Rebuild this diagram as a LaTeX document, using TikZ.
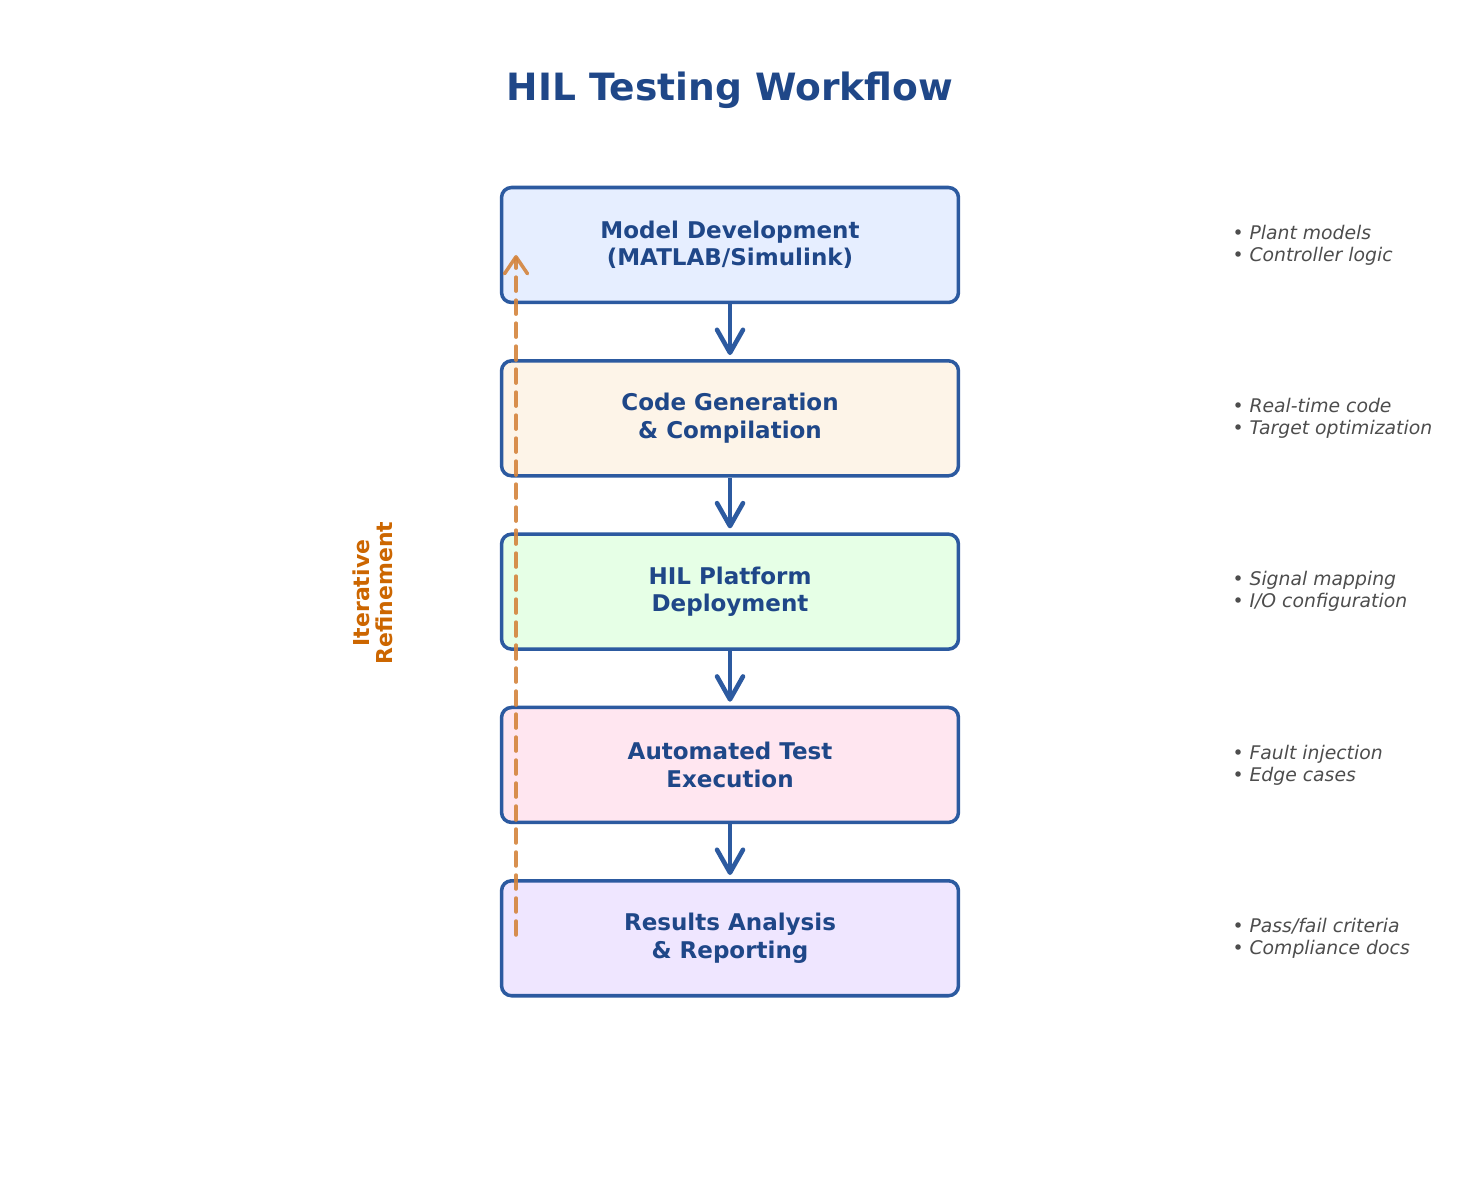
\documentclass[tikz,border=0pt]{standalone}
\usepackage{fontspec}
\setsansfont{DejaVu Sans}
\usepackage{xcolor}
\definecolor{frameBlue}{HTML}{2C5AA0}
\definecolor{titleBlue}{HTML}{1F4788}
\definecolor{loopOrange}{HTML}{D4843C}
\definecolor{labelOrange}{HTML}{CC6600}
\definecolor{noteGray}{HTML}{4D4D4D}
\definecolor{modelFill}{HTML}{E6EEFF}
\definecolor{codeFill}{HTML}{FDF4E8}
\definecolor{deployFill}{HTML}{E6FFE6}
\definecolor{testFill}{HTML}{FFE6F0}
\definecolor{resultFill}{HTML}{EFE6FF}
\usepackage{tikz}
\usetikzlibrary{
    arrows.meta,
    positioning
}
\tikzset{
    % Base style for the workflow stages
    stage base/.style={
        font=\sffamily\bfseries\fontsize{13.1}{15.6}\selectfont,
        align=center,
        text=titleBlue,
    },
    % Stage boxes - rounded rectangle, blue frame
    stage/.style={
        stage base,
        rectangle,
        rounded corners=0.2cm,
        draw=frameBlue,
        line width=2pt,
        minimum width=9.14cm,
        minimum height=2.3cm,
    },
    % Title of the chart
    chart title/.style={
        font=\sffamily\bfseries\fontsize{21.4}{25}\selectfont,
        text=titleBlue,
    },
    % Side notes - grey italic bullets
    note/.style={
        font=\sffamily\itshape\fontsize{10.7}{12.5}\selectfont,
        text=noteGray,
        align=left,
        anchor=west,
        inner sep=0pt,
    },
    % Arrow between stages
    arrow/.style={
        -{Straight Barb[length=4.6mm, width=5.2mm, line cap=round, line join=round]},
        line width=2.6pt,
        draw=frameBlue,
        shorten >=0.08cm,
    },
    % Dashed feedback arrow
    arrow loop/.style={
        -{Straight Barb[length=3.4mm, width=4.6mm, line cap=round, line join=round]},
        line width=2pt,
        draw=loopOrange,
        draw opacity=0.9,
        dash pattern=on 0.28cm off 0.18cm,
        line cap=round,
    },
    % Label of the feedback loop
    loop label/.style={
        font=\sffamily\bfseries\fontsize{12.5}{13.2}\selectfont,
        text=labelOrange,
        align=center,
        rotate=90,
    },
}

\begin{document}
\begin{tikzpicture}[x=0.02cm, y=-0.02cm, node distance=3.467cm, font=\sffamily]
    \useasboundingbox (0,0) rectangle (1460,1185);

    \node (title) [chart title] at (730,90) {HIL Testing Workflow};

    \node (model) [stage, fill=modelFill] at (730,245) {Model Development\\(MATLAB/Simulink)};
    \node (codegen) [stage, fill=codeFill, below of=model] {Code Generation\\\& Compilation};
    \node (deploy) [stage, fill=deployFill, below of=codegen] {HIL Platform\\Deployment};
    \node (testrun) [stage, fill=testFill, below of=deploy] {Automated Test\\Execution};
    \node (results) [stage, fill=resultFill, below of=testrun] {Results Analysis\\\& Reporting};

    \node (modelNote) [note, right=5.44cm of model] {• Plant models\\• Controller logic};
    \node (codegenNote) [note, right=5.44cm of codegen] {• Real-time code\\• Target optimization};
    \node (deployNote) [note, right=5.44cm of deploy] {• Signal mapping\\• I/O configuration};
    \node (testrunNote) [note, right=5.44cm of testrun] {• Fault injection\\• Edge cases};
    \node (resultsNote) [note, right=5.44cm of results] {• Pass/fail criteria\\• Compliance docs};

    \draw [arrow] (model) -- (codegen);
    \draw [arrow] (codegen) -- (deploy);
    \draw [arrow] (deploy) -- (testrun);
    \draw [arrow] (testrun) -- (results);

    % feedback from the results back to the model
    \coordinate (loopStart) at (516,935);
    \coordinate (loopEnd) at (516,255);
    \draw [arrow loop] (loopStart) -- (loopEnd);
    \node (loopText) [loop label] at (373,593) {Iterative\\Refinement};
\end{tikzpicture}
\end{document}
